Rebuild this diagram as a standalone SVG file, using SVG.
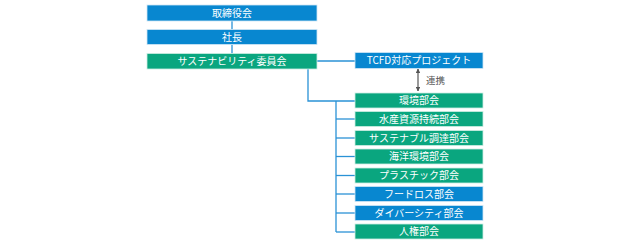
<svg xmlns="http://www.w3.org/2000/svg" width="630" height="245" viewBox="0 0 630 245">
<defs>
<style>
.b{fill:#0887d0;stroke:#cfe6f5;stroke-width:0.8}
.g{fill:#0aa67f;stroke:#cdeee3;stroke-width:0.8}
.t{font-family:"Noto Sans CJK JP","Noto Sans",sans-serif;font-size:10px;fill:#fff;text-anchor:middle}
.l{fill:none;stroke:#2a92d6;stroke-width:1.3}
.a{fill:none;stroke:#555;stroke-width:1.2}
.lab{font-family:"Noto Sans CJK JP","Noto Sans",sans-serif;font-size:9.5px;fill:#555}
</style>
<marker id="ah" viewBox="0 0 10 10" refX="9" refY="5" markerWidth="4" markerHeight="4" orient="auto-start-reverse">
<path d="M0,0 L10,5 L0,10 z" fill="#555"/>
</marker>
</defs>
<rect width="630" height="245" fill="#fff"/>
<g id="connectors">
<line class="l" x1="232" y1="21" x2="232" y2="29.5"/>
<line class="l" x1="232" y1="44.5" x2="232" y2="53.5"/>
<line class="l" x1="317" y1="61" x2="355" y2="61"/>
<polyline class="l" points="308,69 308,101 355,101"/>
<line class="l" x1="336" y1="101" x2="336" y2="232"/>
<line class="l" x1="336" y1="119" x2="355" y2="119"/>
<line class="l" x1="336" y1="138" x2="355" y2="138"/>
<line class="l" x1="336" y1="156.5" x2="355" y2="156.5"/>
<line class="l" x1="336" y1="175.5" x2="355" y2="175.5"/>
<line class="l" x1="336" y1="194" x2="355" y2="194"/>
<line class="l" x1="336" y1="213" x2="355" y2="213"/>
<line class="l" x1="336" y1="232" x2="355" y2="232"/>
<line class="a" x1="418" y1="69" x2="418" y2="91" marker-start="url(#ah)" marker-end="url(#ah)"/>
<text class="lab" x="426" y="84">連携</text>
</g>
<g id="n1"><rect class="b" x="147" y="5" width="170" height="16"/><text class="t" x="232" y="16.8">取締役会</text></g>
<g id="n2"><rect class="b" x="147" y="29.5" width="170" height="15"/><text class="t" x="232" y="40.8">社長</text></g>
<g id="n3"><rect class="g" x="147" y="53.5" width="170" height="15.5"/><text class="t" x="232" y="65">サステナビリティ委員会</text></g>
<g id="n4"><rect class="b" x="355" y="52.5" width="128" height="16"/><text class="t" x="419" y="64.3">TCFD対応プロジェクト</text></g>
<g id="n5"><rect class="g" x="355" y="93" width="128" height="15"/><text class="t" x="419" y="104.3">環境部会</text></g>
<g id="n6"><rect class="g" x="355" y="111.5" width="128" height="15"/><text class="t" x="419" y="122.8">水産資源持続部会</text></g>
<g id="n7"><rect class="g" x="355" y="130.5" width="128" height="15"/><text class="t" x="419" y="141.8">サステナブル調達部会</text></g>
<g id="n8"><rect class="g" x="355" y="149" width="128" height="15"/><text class="t" x="419" y="160.3">海洋環境部会</text></g>
<g id="n9"><rect class="g" x="355" y="168" width="128" height="15"/><text class="t" x="419" y="179.3">プラスチック部会</text></g>
<g id="n10"><rect class="b" x="355" y="186.5" width="128" height="15"/><text class="t" x="419" y="197.8">フードロス部会</text></g>
<g id="n11"><rect class="b" x="355" y="205.5" width="128" height="15"/><text class="t" x="419" y="216.8">ダイバーシティ部会</text></g>
<g id="n12"><rect class="g" x="355" y="224" width="128" height="15"/><text class="t" x="419" y="235.3">人権部会</text></g>
</svg>
